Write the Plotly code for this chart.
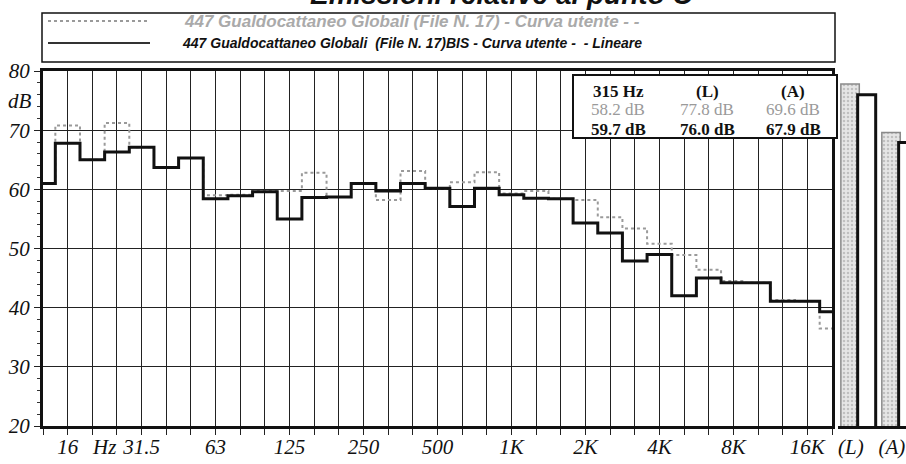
import plotly.graph_objects as go

# ---- data ----
bands = ["12.5", "16", "20", "25", "31.5", "40", "50", "63", "80", "100", "125", "160",
         "200", "250", "315", "400", "500", "630", "800", "1K", "1.25K", "1.6K", "2K",
         "2.5K", "3.15K", "4K", "5K", "6.3K", "8K", "10K", "12.5K", "16K", "20K"]
black_db = [61.0, 67.8, 65.0, 66.3, 67.1, 63.7, 65.3, 58.4, 58.9, 59.6, 55.0, 58.6,
            58.7, 61.0, 59.7, 61.0, 60.2, 57.1, 60.2, 59.1, 58.5, 58.4, 54.3, 52.6,
            47.9, 49.0, 42.0, 45.0, 44.2, 44.2, 41.1, 41.1, 39.3]
gray_db = [61.0, 70.8, 65.0, 71.2, 67.1, 63.7, 65.3, 59.0, 59.1, 59.7, 59.7, 62.8,
           58.7, 61.0, 58.2, 63.1, 60.2, 61.2, 62.9, 59.3, 59.7, 58.4, 58.2, 55.3,
           53.4, 50.8, 48.9, 46.4, 44.5, 44.2, 41.3, 41.1, 36.5]
total_labels = ["(L)", "(A)"]
gray_tot = [77.8, 69.6]
black_tot = [76.0, 67.9]
xtick_vals = [1, 2.5, 4, 7, 10, 13, 16, 19, 22, 25, 28, 31]
xtick_text = ["16", "Hz", "31.5", "63", "125", "250", "500", "1K", "2K", "4K", "8K", "16K"]
ytick_vals = [20, 30, 40, 50, 60, 70, 80]
sel_band = "315 Hz"
legend_gray = "447 Gualdocattaneo Globali (File N. 17) - Curva utente - -"
legend_black = "447 Gualdocattaneo Globali  (File N. 17)BIS - Curva utente -  - Lineare"
title_text = "Emissioni relative al punto C"

W, H = 906, 464
L, R, T, B = 43, 0, 71, 38
PW, PH = W - L - R, H - T - B
def px(x): return (x - L) / PW
def py(y): return (H - B - y) / PH

idx = list(range(len(bands)))
GRAY = "#9a9a9a"
serif = "Liberation Serif"
sans = "Liberation Sans"

fig = go.Figure()
fig.add_trace(go.Scatter(x=idx, y=gray_db, mode="lines", line_shape="hvh",
                         line=dict(color=GRAY, width=2, dash="dot"), showlegend=False))
fig.add_trace(go.Scatter(x=idx, y=black_db, mode="lines", line_shape="hvh",
                         line=dict(color="#111", width=3), showlegend=False))
fig.add_trace(go.Bar(x=total_labels, y=gray_tot, xaxis="x2", yaxis="y2",
                     offset=-0.44, width=0.45,
                     marker=dict(color="#e6e6e6", line=dict(color="#8a8a8a", width=1.5),
                                 pattern=dict(shape=".", fgcolor="#9a9a9a", size=4, solidity=0.3)),
                     showlegend=False))
fig.add_trace(go.Bar(x=total_labels, y=black_tot, xaxis="x2", yaxis="y2",
                     offset=-0.03, width=0.44,
                     marker=dict(color="white", line=dict(color="#111", width=3)),
                     showlegend=False))

tickfont = dict(family=serif, size=21, color="#111", style="italic")
fig.update_layout(
    width=W, height=H, margin=dict(l=L, r=R, t=T, b=B),
    paper_bgcolor="white", plot_bgcolor="white", barmode="overlay",
    xaxis=dict(domain=[0, px(832)], range=[0, len(bands) - 1],
               tickmode="array", tickvals=xtick_vals, ticktext=xtick_text,
               ticks="", showgrid=False, tickfont=tickfont,
               showline=True, linecolor="#111", linewidth=3, mirror=True, zeroline=False,
               minor=dict(tickmode="linear", tick0=0, dtick=1, showgrid=True,
                          gridcolor="#222", gridwidth=1, ticks="outside", ticklen=6,
                          tickcolor="#222")),
    yaxis=dict(range=[20, 80], tickmode="array", tickvals=ytick_vals,
               showgrid=True, gridcolor="#222", gridwidth=1, zeroline=False,
               ticks="outside", ticklen=6, tickcolor="#222", tickfont=tickfont,
               showline=True, linecolor="#111", linewidth=3, mirror=True,
               minor=dict(dtick=2, ticks="outside", ticklen=3, tickcolor="#333", showgrid=False)),
    xaxis2=dict(domain=[px(838), 1], range=[-0.51, 1.15], anchor="y2",
                tickfont=tickfont, showgrid=False, ticks="", ticklabelshift=-8,
                showline=True, linecolor="#111", linewidth=3),
    yaxis2=dict(range=[20, 80], anchor="x2", showgrid=False, showticklabels=False,
                zeroline=False, ticks=""),
)

shapes = []
ann = []
# legend box
shapes.append(dict(type="rect", xref="paper", yref="paper", x0=px(42), x1=px(835),
                   y0=py(62), y1=py(13), line=dict(color="#111", width=1.5), fillcolor="white"))
shapes.append(dict(type="line", xref="paper", yref="paper", x0=px(48), x1=px(150),
                   y0=py(21), y1=py(21), line=dict(color=GRAY, width=2, dash="dot")))
shapes.append(dict(type="line", xref="paper", yref="paper", x0=px(48), x1=px(150),
                   y0=py(43), y1=py(43), line=dict(color="#333", width=2)))
ann.append(dict(xref="paper", yref="paper", x=px(182), y=py(22), xanchor="left", yanchor="middle",
                text=legend_gray, showarrow=False,
                font=dict(family=sans, size=17, color="#aaaaaa", style="italic", weight="bold")))
ann.append(dict(xref="paper", yref="paper", x=px(180), y=py(43), xanchor="left", yanchor="middle",
                text=legend_black, showarrow=False,
                font=dict(family=sans, size=14, color="#111", style="italic", weight="bold")))
# title (cut at top)
ann.append(dict(xref="paper", yref="paper", x=px(502), y=py(-6), xanchor="center", yanchor="middle",
                text=title_text, showarrow=False,
                font=dict(family=sans, size=28, color="#111", style="italic", weight="bold")))
# dB label
ann.append(dict(xref="paper", yref="y", x=px(34), y=75, xanchor="right", yanchor="middle",
                text="dB", showarrow=False, font=tickfont))
# info box
shapes.append(dict(type="rect", xref="paper", yref="paper", x0=px(573), x1=px(837),
                   y0=py(138), y1=py(75), line=dict(color="#111", width=2), fillcolor="white"))
cols = [618, 707, 793]
head = [sel_band, total_labels[0], total_labels[1]]
gvals = [gray_db[bands.index("315")], gray_tot[0], gray_tot[1]]
bvals = [black_db[bands.index("315")], black_tot[0], black_tot[1]]
for cx, h, g, b in zip(cols, head, gvals, bvals):
    ann.append(dict(xref="paper", yref="paper", x=px(cx), y=py(91), text=h, showarrow=False,
                    xanchor="center", yanchor="middle",
                    font=dict(family=serif, size=17, color="#111", weight="bold")))
    ann.append(dict(xref="paper", yref="paper", x=px(cx), y=py(110), text=f"{g:.1f} dB",
                    xanchor="center", yanchor="middle",
                    showarrow=False, font=dict(family=serif, size=17, color=GRAY)))
    ann.append(dict(xref="paper", yref="paper", x=px(cx), y=py(129), text=f"{b:.1f} dB",
                    xanchor="center", yanchor="middle",
                    showarrow=False, font=dict(family=serif, size=17, color="#111", weight="bold")))
fig.update_layout(shapes=shapes, annotations=ann)

fig.write_html("out.html")
